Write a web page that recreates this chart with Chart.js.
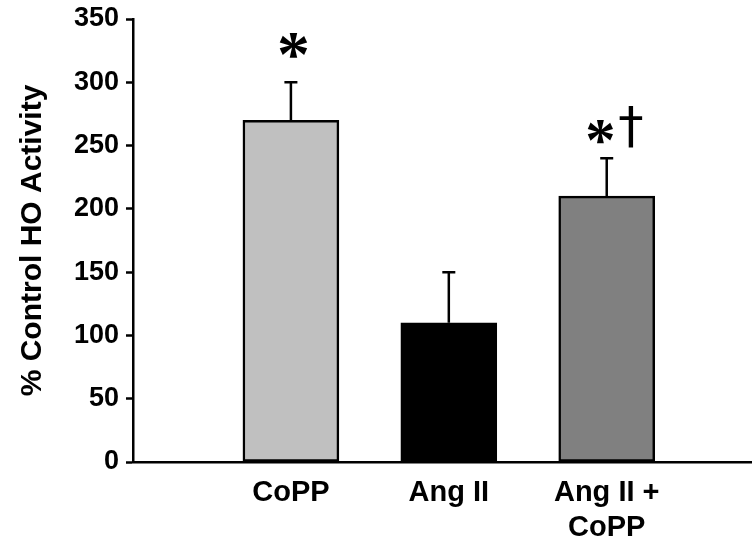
<!DOCTYPE html>
<html>
<head>
<meta charset="utf-8">
<script src="https://cdn.jsdelivr.net/npm/chart.js@4.4.1/dist/chart.umd.min.js"></script>
<style>
  html, body { margin: 0; padding: 0; background: #ffffff; }
  #wrap { width: 752px; height: 551px; }
</style>
</head>
<body>
<div id="wrap"><canvas id="c" width="752" height="551"></canvas></div>
<script>
// ---- data ----
const categories = ['CoPP', 'Ang II', ['Ang II +', 'CoPP']];
const positions = [1, 2, 3];
const values = [270, 110, 210];
const errors = [30, 40, 30];
const barColors = ['#c0c0c0', '#000000', '#808080'];
const marks = ['*', '', '*†'];
const yTicks = [0, 50, 100, 150, 200, 250, 300, 350];
const yTitle = '% Control HO Activity';

const FONT = '"Liberation Sans", Arial, Helvetica, sans-serif';
const STAR_FONT = 'bold "Liberation Serif", serif';
const DAGGER_FONT = '"DejaVu Sans", sans-serif';

// draw a glyph so its visual box is centred at (cx, cy) with given height
function drawGlyph(ctx, ch, fam, cx, cy, h) {
  const style = fam.startsWith('bold') ? 'bold ' : '';
  const family = fam.replace(/^bold\s+/, '');
  ctx.font = style + '100px ' + family;
  let m = ctx.measureText(ch);
  const gh = m.actualBoundingBoxAscent + m.actualBoundingBoxDescent;
  const size = 100 * h / gh;
  ctx.font = style + size + 'px ' + family;
  m = ctx.measureText(ch);
  const w = m.actualBoundingBoxLeft + m.actualBoundingBoxRight;
  const x = cx - w / 2 + m.actualBoundingBoxLeft;
  const y = cy + (m.actualBoundingBoxAscent - m.actualBoundingBoxDescent) / 2;
  ctx.textAlign = 'left';
  ctx.textBaseline = 'alphabetic';
  ctx.fillText(ch, x, y);
}

const errorBarPlugin = {
  id: 'errorBars',
  afterDatasetsDraw(chart) {
    const ctx = chart.ctx;
    const xs = chart.scales.x, ys = chart.scales.y;
    ctx.save();
    ctx.strokeStyle = '#000';
    ctx.fillStyle = '#000';
    ctx.lineWidth = 2.5;
    positions.forEach((p, i) => {
      const x = xs.getPixelForValue(p);
      const y0 = ys.getPixelForValue(values[i]);
      const y1 = ys.getPixelForValue(values[i] + errors[i]);
      ctx.beginPath();
      ctx.moveTo(x, y0);
      ctx.lineTo(x, y1);
      ctx.moveTo(x - 6.5, y1);
      ctx.lineTo(x + 6.5, y1);
      ctx.stroke();
      const chars = Array.from(marks[i]);
      if (chars.length === 1) {
        drawGlyph(ctx, chars[0], STAR_FONT, x + 2.5, y1 - 37, 25);
      } else if (chars.length === 2) {
        drawGlyph(ctx, chars[0], STAR_FONT, x - 6.5, y1 - 26, 23);
        drawGlyph(ctx, chars[1], DAGGER_FONT, x + 24, y1 - 31, 42);
      }
    });
    ctx.restore();
  }
};

new Chart(document.getElementById('c'), {
  type: 'bar',
  data: {
    datasets: [{
      data: positions.map((p, i) => ({ x: p, y: values[i] })),
      backgroundColor: barColors,
      borderColor: '#000',
      borderWidth: 2.5,
      borderSkipped: false,
      barThickness: 96
    }]
  },
  options: {
    responsive: false,
    animation: false,
    devicePixelRatio: 1,
    layout: { padding: { top: 19, right: 0, left: 0, bottom: 0 } },
    plugins: { legend: { display: false }, tooltip: { enabled: false } },
    scales: {
      x: {
        type: 'linear',
        min: 0,
        max: 3.92,
        offset: false,
        afterFit(s) { s.height = 89; },
        afterBuildTicks(s) { s.ticks = positions.map(v => ({ value: v })); },
        ticks: {
          autoSkip: false,
          maxRotation: 0,
          padding: 14,
          color: '#000',
          font: { family: FONT, size: 29, weight: 'bold', lineHeight: 1.2 },
          callback(v) {
            const i = positions.indexOf(v);
            return i >= 0 ? categories[i] : '';
          }
        },
        grid: { display: true, drawOnChartArea: false, drawTicks: false },
        border: { display: true, color: '#000', width: 2.5 }
      },
      y: {
        min: 0,
        max: 350,
        afterFit(s) { s.width = 133; },
        afterBuildTicks(s) { s.ticks = yTicks.map(v => ({ value: v })); },
        ticks: {
          padding: 7,
          color: '#000',
          font: { family: FONT, size: 27, weight: 'bold', lineHeight: 0.8 }
        },
        grid: {
          display: true,
          drawOnChartArea: false,
          drawTicks: true,
          tickLength: 7,
          tickWidth: 2.5,
          tickColor: '#000'
        },
        border: { display: true, color: '#000', width: 2.5 },
        title: {
          display: true,
          text: yTitle,
          color: '#000',
          padding: { top: 15, bottom: 0 },
          font: { family: FONT, size: 30, weight: 'bold' }
        }
      }
    }
  },
  plugins: [errorBarPlugin]
});
</script>
</body>
</html>
